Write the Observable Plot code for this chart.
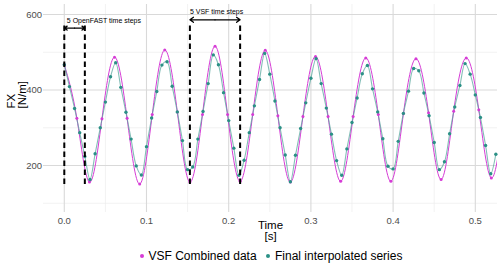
<!DOCTYPE html>
<html><head><meta charset="utf-8">
<script src="https://cdn.jsdelivr.net/npm/d3@7"></script>
<script src="https://cdn.jsdelivr.net/npm/@observablehq/plot@0.6"></script>
<style>
body{margin:0;background:#fff;font-family:"Liberation Sans",Arial,sans-serif;}
#chart svg{display:block;}
#legend{position:relative;width:500px;height:24px;font-size:12px;color:#000;}
#legend .k{position:absolute;top:0;height:24px;display:flex;align-items:center;}
#legend .k i{display:inline-block;width:4px;height:4px;border-radius:50%;margin-right:5px;}
</style></head><body><div id="chart"></div><div id="legend"></div>
<script>
// VSF combined data (time [s], FX [N/m])
const vsfTime = [0, 0.0153, 0.0306, 0.0458, 0.0611, 0.0764, 0.0917, 0.1070, 0.1222, 0.1375, 0.1528, 0.1681, 0.1834, 0.1986, 0.2139, 0.2292, 0.2445, 0.2598, 0.2750, 0.2903, 0.3056, 0.3209, 0.3362, 0.3514, 0.3667, 0.3820, 0.3973, 0.4126, 0.4278, 0.4431, 0.4584, 0.4737, 0.4890, 0.5042, 0.5195, 0.5348];
const vsfFX = [467, 325, 156, 324, 487, 325, 151, 335, 506, 342, 156, 335, 516, 335, 158, 335, 505, 332, 156, 330, 489, 330, 158, 330, 485, 335, 158, 338, 483, 340, 163, 344, 485, 348, 167, 340];
// Final interpolated series
const interpTime = [0, 0.00625, 0.0125, 0.01875, 0.025, 0.03125, 0.0375, 0.04375, 0.05, 0.05625, 0.0625, 0.06875, 0.075, 0.08125, 0.0875, 0.09375, 0.1, 0.10625, 0.1125, 0.11875, 0.125, 0.13125, 0.1375, 0.14375, 0.15, 0.15625, 0.1625, 0.16875, 0.175, 0.18125, 0.1875, 0.19375, 0.2, 0.20625, 0.2125, 0.21875, 0.225, 0.23125, 0.2375, 0.24375, 0.25, 0.25625, 0.2625, 0.26875, 0.275, 0.28125, 0.2875, 0.29375, 0.3, 0.30625, 0.3125, 0.31875, 0.325, 0.33125, 0.3375, 0.34375, 0.35, 0.35625, 0.3625, 0.36875, 0.375, 0.38125, 0.3875, 0.39375, 0.4, 0.40625, 0.4125, 0.41875, 0.425, 0.43125, 0.4375, 0.44375, 0.45, 0.45625, 0.4625, 0.46875, 0.475, 0.48125, 0.4875, 0.49375, 0.5, 0.50625, 0.5125, 0.51875, 0.525];
const interpFX = [467, 409, 351, 287, 224, 163, 231, 300, 368, 435,
  472, 407, 341, 270, 199, 175, 250, 326, 396, 466,
  475, 410, 342, 266, 189, 196, 270, 343, 417, 493,
  467, 393, 319, 246, 174, 214, 287, 358, 428, 497,
  442, 371, 300, 228, 157, 227, 298, 366, 431, 483,
  417, 352, 283, 213, 174, 244, 314, 379, 443, 465,
  403, 342, 271, 198, 191, 264, 338, 397, 457, 451,
  392, 332, 261, 189, 210, 284, 355, 412, 470, 442,
  387, 327, 253, 178, 230];
// ticks / grid
const xTicks = [0, 0.1, 0.2, 0.3, 0.4, 0.5];
const xMinor = [0.05, 0.15, 0.25, 0.35, 0.45];
const yTicks = [200, 400, 600];
const yMinor = [100, 300, 500];
// annotations
const spans = [
  {label: "5 OpenFAST time steps", t1: 0, t2: 0.025, arrowY: 564, textY: 584},
  {label: "5 VSF time steps", t1: 0.1528, t2: 0.2139, arrowY: 586, textY: 606}
];
const dashLow = 150, dashHigh = 570;
const series = ["VSF Combined data", "Final interpolated series"];
const colors = ["#d63cd6", "#2b9086"];

const vsf = vsfTime.map((t, i) => ({t, v: vsfFX[i]}));
const interp = interpTime.map((t, i) => ({t, v: interpFX[i]}));
const dashes = spans.flatMap(s => [s.t1, s.t2]);
const arrowsL = spans.map(s => ({x1: (s.t1 + s.t2) / 2, x2: s.t1, y: s.arrowY}));
const arrowsR = spans.map(s => ({x1: (s.t1 + s.t2) / 2, x2: s.t2, y: s.arrowY}));

const font = '"Liberation Sans", Arial, sans-serif';
const chart = Plot.plot({
  width: 500, height: 244,
  marginLeft: 43, marginRight: 3, marginTop: 4, marginBottom: 32,
  style: {fontFamily: font, background: "#fff"},
  x: {domain: [-0.0253, 0.527]},
  y: {domain: [75.5, 626.5]},
  marks: [
    Plot.ruleY(yMinor, {stroke: "#ececec", strokeWidth: 0.7}),
    Plot.ruleX(xMinor, {stroke: "#ececec", strokeWidth: 0.7}),
    Plot.ruleY(yTicks, {stroke: "#d9d9d9", strokeWidth: 1.1}),
    Plot.ruleX(xTicks, {stroke: "#d9d9d9", strokeWidth: 1.1}),
    Plot.axisX(xTicks, {tickSize: 0, tickPadding: 5, tickFormat: d3.format(".1f"), fontSize: 9.5, fill: "#4d4d4d", label: null}),
    Plot.axisY(yTicks, {tickSize: 0, tickPadding: 1.5, fontSize: 9.5, fill: "#4d4d4d", label: null}),
    Plot.line(vsf, {x: "t", y: "v", curve: "natural", stroke: colors[0], strokeWidth: 1, clip: true}),
    Plot.line(interp, {x: "t", y: "v", curve: "catmull-rom", stroke: "#5aa89f", strokeOpacity: 0.75, strokeWidth: 1.1}),
    Plot.dot(vsf, {x: "t", y: "v", r: 1.5, fill: colors[0], clip: true}),
    Plot.dot(interp, {x: "t", y: "v", r: 1.7, fill: colors[1]}),
    Plot.ruleX(dashes, {y1: dashLow, y2: dashHigh, stroke: "#000", strokeWidth: 2, strokeDasharray: "5.5,3.5"}),
    Plot.arrow(arrowsL, {x1: "x1", x2: "x2", y1: "y", y2: "y", stroke: "#000", strokeWidth: 1.3, headLength: 5, headAngle: 70}),
    Plot.arrow(arrowsR, {x1: "x1", x2: "x2", y1: "y", y2: "y", stroke: "#000", strokeWidth: 1.3, headLength: 5, headAngle: 70}),
    Plot.text([spans[0]], {x: "t1", y: "textY", text: "label", dx: 2.5, textAnchor: "start", fontSize: 7, fill: "#000"}),
    Plot.text([spans[1]], {x: "t1", y: "textY", text: "label", dx: 0, textAnchor: "start", fontSize: 7, fill: "#000"}),
    Plot.text(["Time"], {frameAnchor: "bottom", dy: 16, fontSize: 11.5, fill: "#000"}),
    Plot.text(["[s]"], {frameAnchor: "bottom", dy: 27, fontSize: 11.5, fill: "#000"}),
    Plot.text(["FX"], {frameAnchor: "left", dx: -32, rotate: -90, fontSize: 11.5, fill: "#000"}),
    Plot.text(["[N/m]"], {frameAnchor: "left", dx: -21.5, rotate: -90, fontSize: 11.5, fill: "#000"})
  ]
});
document.getElementById("chart").append(chart);

const legend = document.getElementById("legend");
const lefts = [139.5, 266];
series.forEach((s, i) => {
  const k = document.createElement("span");
  k.className = "k";
  k.style.left = lefts[i] + "px";
  const dot = document.createElement("i");
  dot.style.background = colors[i];
  k.append(dot, document.createTextNode(s));
  legend.append(k);
});
</script>
</body></html>
